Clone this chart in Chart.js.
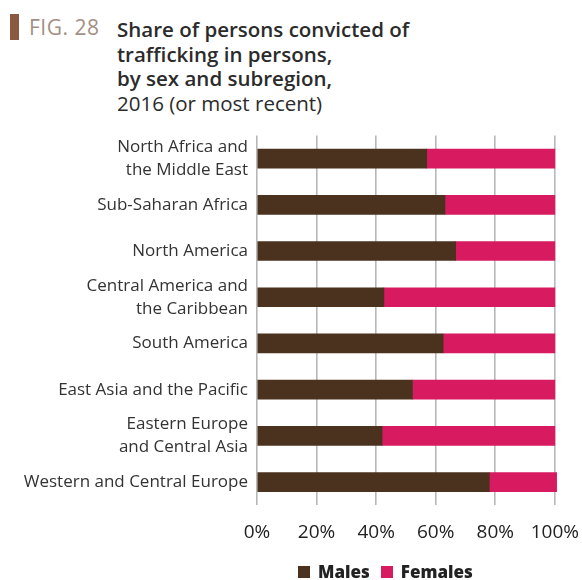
<!DOCTYPE html>
<html>
<head>
<meta charset="utf-8">
<script src="https://cdn.jsdelivr.net/npm/chart.js@4"></script>
<style>
    body { margin: 0; width: 582px; height: 580px; background: #fff; position: relative; overflow: hidden; font-family: 'Open Sans', sans-serif; }
    .marca { position: absolute; left: 10px; top: 14px; width: 9px; height: 26px; background: #8a5a40; }
    .fig { position: absolute; left: 29px; top: 13px; font-size: 21px; color: #a38f84; letter-spacing: 0.5px; }
    .titulo { position: absolute; left: 117px; top: 17px; font-size: 20.5px; line-height: 24.5px; color: #2b2b2b; font-weight: 600; }
    .titulo span { font-weight: 400; }
    #caixaGrafico { position: absolute; left: 0; top: 115px; width: 595px; height: 448px; }
    .legenda { position: absolute; top: 560px; left: 298px; display: flex; align-items: center; font-weight: 700; font-size: 17px; color: #222; }
    .legenda i { display: inline-block; width: 12px; height: 12px; margin-right: 8px; }
    .legenda b { margin-right: 11px; }
</style>
</head>
<body>
<div class="marca"></div>
<div class="fig">FIG. 28</div>
<div class="titulo">Share of persons convicted of<br>trafficking in persons,<br>by sex and subregion,<br><span>2016 (or most recent)</span></div>
<div id="caixaGrafico"><canvas id="graficoSexo"></canvas></div>
<div class="legenda" id="legenda"></div>
<script>
const subregioes = [
    ['North Africa and', 'the Middle East'],
    'Sub-Saharan Africa',
    'North America',
    ['Central America and', 'the Caribbean'],
    'South America',
    'East Asia and the Pacific',
    ['Eastern Europe', 'and Central Asia'],
    'Western and Central Europe'
];
const homens = [57, 63.1, 66.7, 42.6, 62.5, 52.2, 42, 78];
const mulheres = [43, 36.9, 33.3, 57.4, 37.5, 47.8, 58, 22.6];
const marcasEixo = [0, 20, 40, 60, 80, 100];

const cores = {
    marrom: '#4b321f',
    rosa: '#d81b60',
    grade: '#b8b8b8',
    texto: '#333333'
};

const series = [
    { label: 'Males', data: homens, cor: cores.marrom },
    { label: 'Females', data: mulheres, cor: cores.rosa }
];

new Chart(document.getElementById('graficoSexo'), {
    type: 'bar',
    data: {
        labels: subregioes,
        datasets: series.map(s => ({
            label: s.label,
            data: s.data,
            backgroundColor: s.cor,
            barThickness: 19,
            clip: false
        }))
    },
    options: {
        indexAxis: 'y',
        responsive: true,
        maintainAspectRatio: false,
        animation: false,
        layout: { padding: { top: 13, right: 27, bottom: 3, left: 0 } },
        plugins: {
            legend: { display: false },
            tooltip: { enabled: false }
        },
        scales: {
            x: {
                stacked: true,
                min: 0,
                max: 100,
                afterBuildTicks: eixo => { eixo.ticks = marcasEixo.map(v => ({ value: v })); },
                border: { display: false },
                grid: { color: cores.grade, lineWidth: 1.6, drawTicks: false },
                ticks: {
                    padding: 16,
                    color: '#222',
                    font: { family: "'Open Sans', sans-serif", size: 19 },
                    callback: v => v + '%'
                }
            },
            y: {
                stacked: true,
                afterFit: eixo => { eixo.width = 257; },
                border: { display: false },
                grid: { display: false, drawTicks: false },
                ticks: {
                    autoSkip: false,
                    padding: 9,
                    color: cores.texto,
                    font: { family: "'Open Sans', sans-serif", size: 17, lineHeight: 1.35 }
                }
            }
        }
    }
});

// legenda em HTML para posicionar como no original
document.getElementById('legenda').innerHTML = series
    .map(s => `<i style="background:${s.cor}"></i><b>${s.label}</b>`)
    .join('');
</script>
</body>
</html>
